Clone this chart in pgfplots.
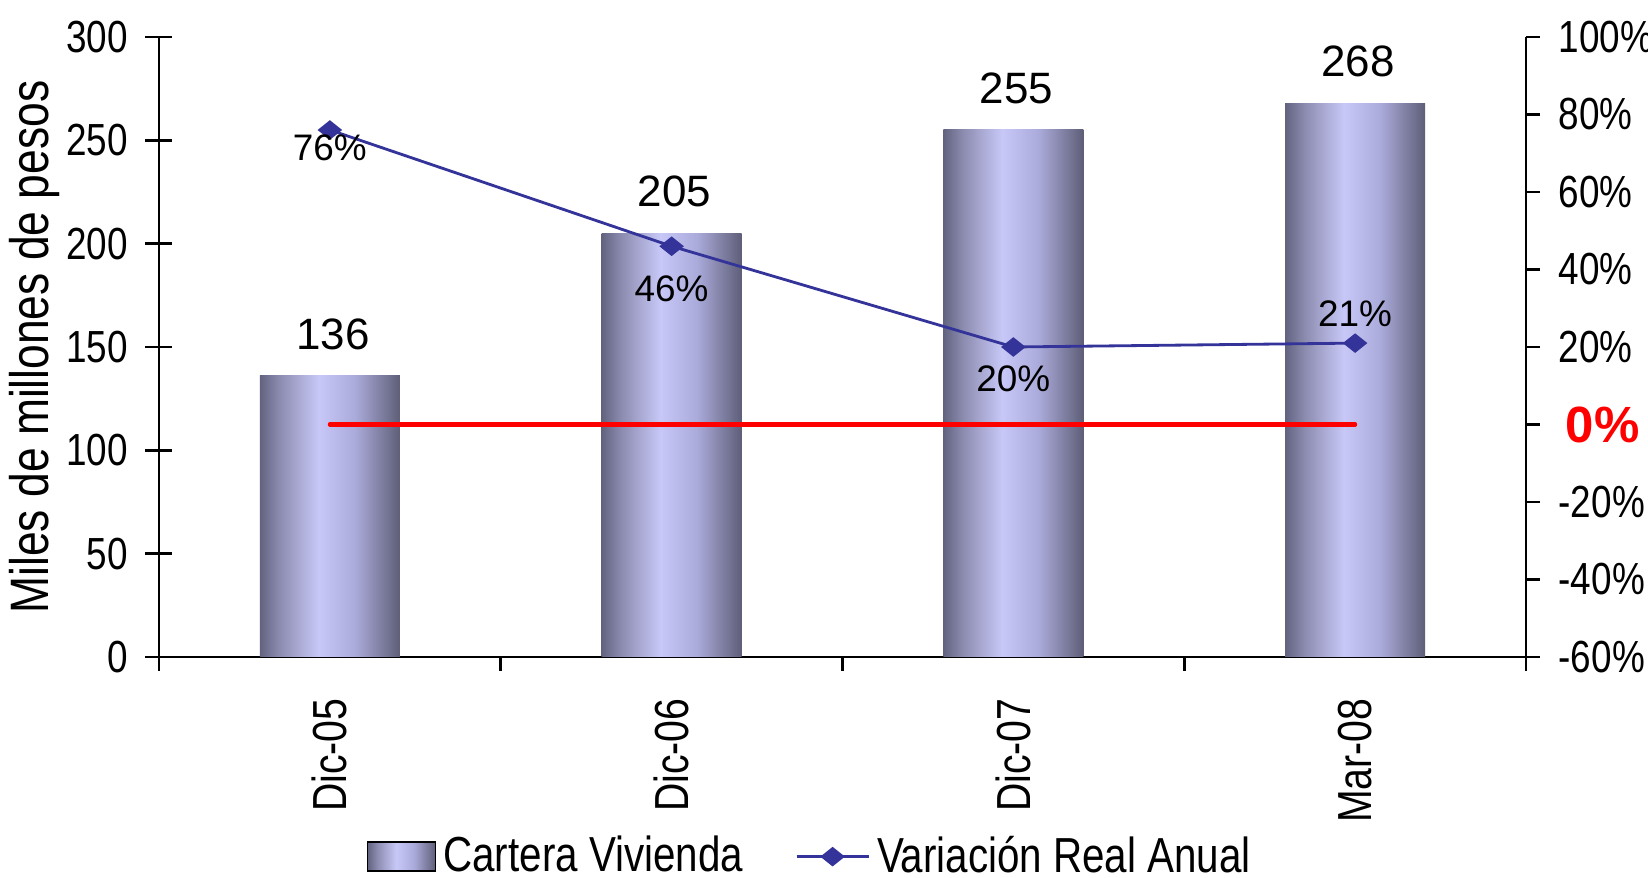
\documentclass[border=0pt]{standalone}
\usepackage{pgfplots}
\pgfplotsset{compat=1.18}
\usepackage{pgfplotstable}
\usepackage{fontspec}
\setmainfont{Liberation Sans}[FakeStretch=0.82]
\newfontfamily\arialfont{Liberation Sans}

\newcommand\tf{\fontsize{12.8pt}{15pt}\selectfont}
\newcommand\xf{\fontsize{13.6pt}{16pt}\selectfont}
\newcommand\lf{\fontsize{14pt}{16pt}\selectfont}
\newcommand\yf{\fontsize{15.4pt}{18pt}\selectfont}
\newcommand\barfont{\arialfont\fontsize{12.5pt}{14pt}\selectfont}
\newcommand\pf{\arialfont\fontsize{10.5pt}{12pt}\selectfont}
\newcommand\zerofont{\arialfont\bfseries\fontsize{14.5pt}{16pt}\selectfont}

\definecolor{linecol}{HTML}{333399}
\definecolor{shA}{HTML}{626280}
\definecolor{shB}{HTML}{8C8CB0}
\definecolor{shC}{HTML}{C8C8F8}
\definecolor{shD}{HTML}{ABABDB}
\definecolor{shE}{HTML}{5E5E78}
% TikZ maps the middle 25bp--75bp of a shading onto the path
\pgfdeclarehorizontalshading{barshade}{100bp}{color(0bp)=(shA); color(25bp)=(shA); color(32bp)=(shB); color(46bp)=(shC); color(59bp)=(shD); color(75bp)=(shE); color(100bp)=(shE)}

\pgfplotsset{
  lineleg/.style={legend image code/.code={%
    \draw[mark repeat=2, mark phase=2, ##1] plot coordinates {(0mm,0mm) (3.6mm,0mm) (7.2mm,0mm)};}},
  barleg/.style={legend image code/.code={%
    \path[shading=barshade] (0mm,-1.45mm) rectangle (6.8mm,1.45mm);}},
  vbar/.style={ybar, bar width=0.41, draw=none, shading=barshade,
    nodes near coords,
    nodes near coords style={font=\barfont, text=black, anchor=center, yshift=4.2mm, xshift=0.3mm}},
}

\pgfplotstableread{
x y dy
0 76 -1.8
1 46 -4.3
2 20 -3.2
3 21 2.9
}\linedata

\begin{document}
\begin{tikzpicture}
\useasboundingbox (-1.59cm,-2.21cm) rectangle (14.89cm,6.57cm);
\begin{axis}[
  at={(0,0)}, anchor=south west,
  scale only axis, width=13.67cm, height=6.2cm,
  xmin=-0.5, xmax=3.5, ymin=0, ymax=300,
  axis lines*=left,
  axis line style={line width=0.8pt},
  xtick={0,1,2,3}, xticklabels={Dic-05,Dic-06,Dic-07,Mar-08},
  minor xtick={-0.5,0.5,1.5,2.5,3.5},
  major x tick style={draw=none},
  minor x tick style={line width=0.8pt, black},
  xtick align=outside,
  minor tick length=1.4mm,
  ytick={0,50,...,300},
  ytick align=center, major tick length=2.7mm,
  ytick style={line width=0.8pt, black},
  tick label style={font=\tf},
  /pgf/number format/assume math mode=true,
  yticklabel style={inner sep=0pt, xshift=-1.7mm},
  xticklabel style={font=\xf, yshift=-1.4mm, rotate=90, anchor=east, inner sep=0pt},
  ylabel={Miles de millones de pesos},
  ylabel style={font=\yf, at={(axis description cs:-0.0914,0.5)}, anchor=center},
]
% Cartera Vivienda
\addplot[vbar] coordinates {(0,136)};
\addplot[vbar] coordinates {(1,205)};
\addplot[vbar] coordinates {(2,255)};
\addplot[vbar] coordinates {(3,268)};
\end{axis}
\begin{axis}[
  at={(0,0)}, anchor=south west,
  scale only axis, width=13.67cm, height=6.2cm,
  xmin=-0.5, xmax=3.5, ymin=-60, ymax=100,
  axis x line=none, axis y line*=right,
  axis line style={line width=0.8pt},
  ytick={-60,-40,...,100},
  yticklabels={-60\%,-40\%,-20\%,{\hspace*{0.7mm}\textcolor{red}{\zerofont 0\%}},20\%,40\%,60\%,80\%,100\%},
  ytick align=outside, major tick length=1.4mm,
  ytick style={line width=0.8pt, black},
  tick label style={font=\tf},
  /pgf/number format/assume math mode=true,
  yticklabel style={inner sep=0pt, xshift=1.8mm},
  legend style={at={(0.478,-0.322)}, anchor=center, draw=none, fill=none,
    legend columns=2, font=\lf,
    /tikz/every even column/.append style={column sep=4.5mm}},
]
\addlegendimage{barleg}
\addlegendentry{Cartera Vivienda}
\addplot[red, line width=1.2pt, line cap=round, forget plot] coordinates {(0,0) (3,0)};
\addplot[linecol, line width=0.8pt, mark=diamond*, mark size=3.8pt,
  mark options={yscale=0.6, fill=linecol}, lineleg,
  visualization depends on={\thisrow{dy} \as \dy},
  nodes near coords={\pgfmathprintnumber{\pgfplotspointmeta}\%},
  nodes near coords style={font=\pf, text=black, anchor=center, yshift=\dy mm}]
  table[x=x, y=y]{\linedata};
\addlegendentry{Variación Real Anual}
\end{axis}
\end{tikzpicture}
\end{document}
